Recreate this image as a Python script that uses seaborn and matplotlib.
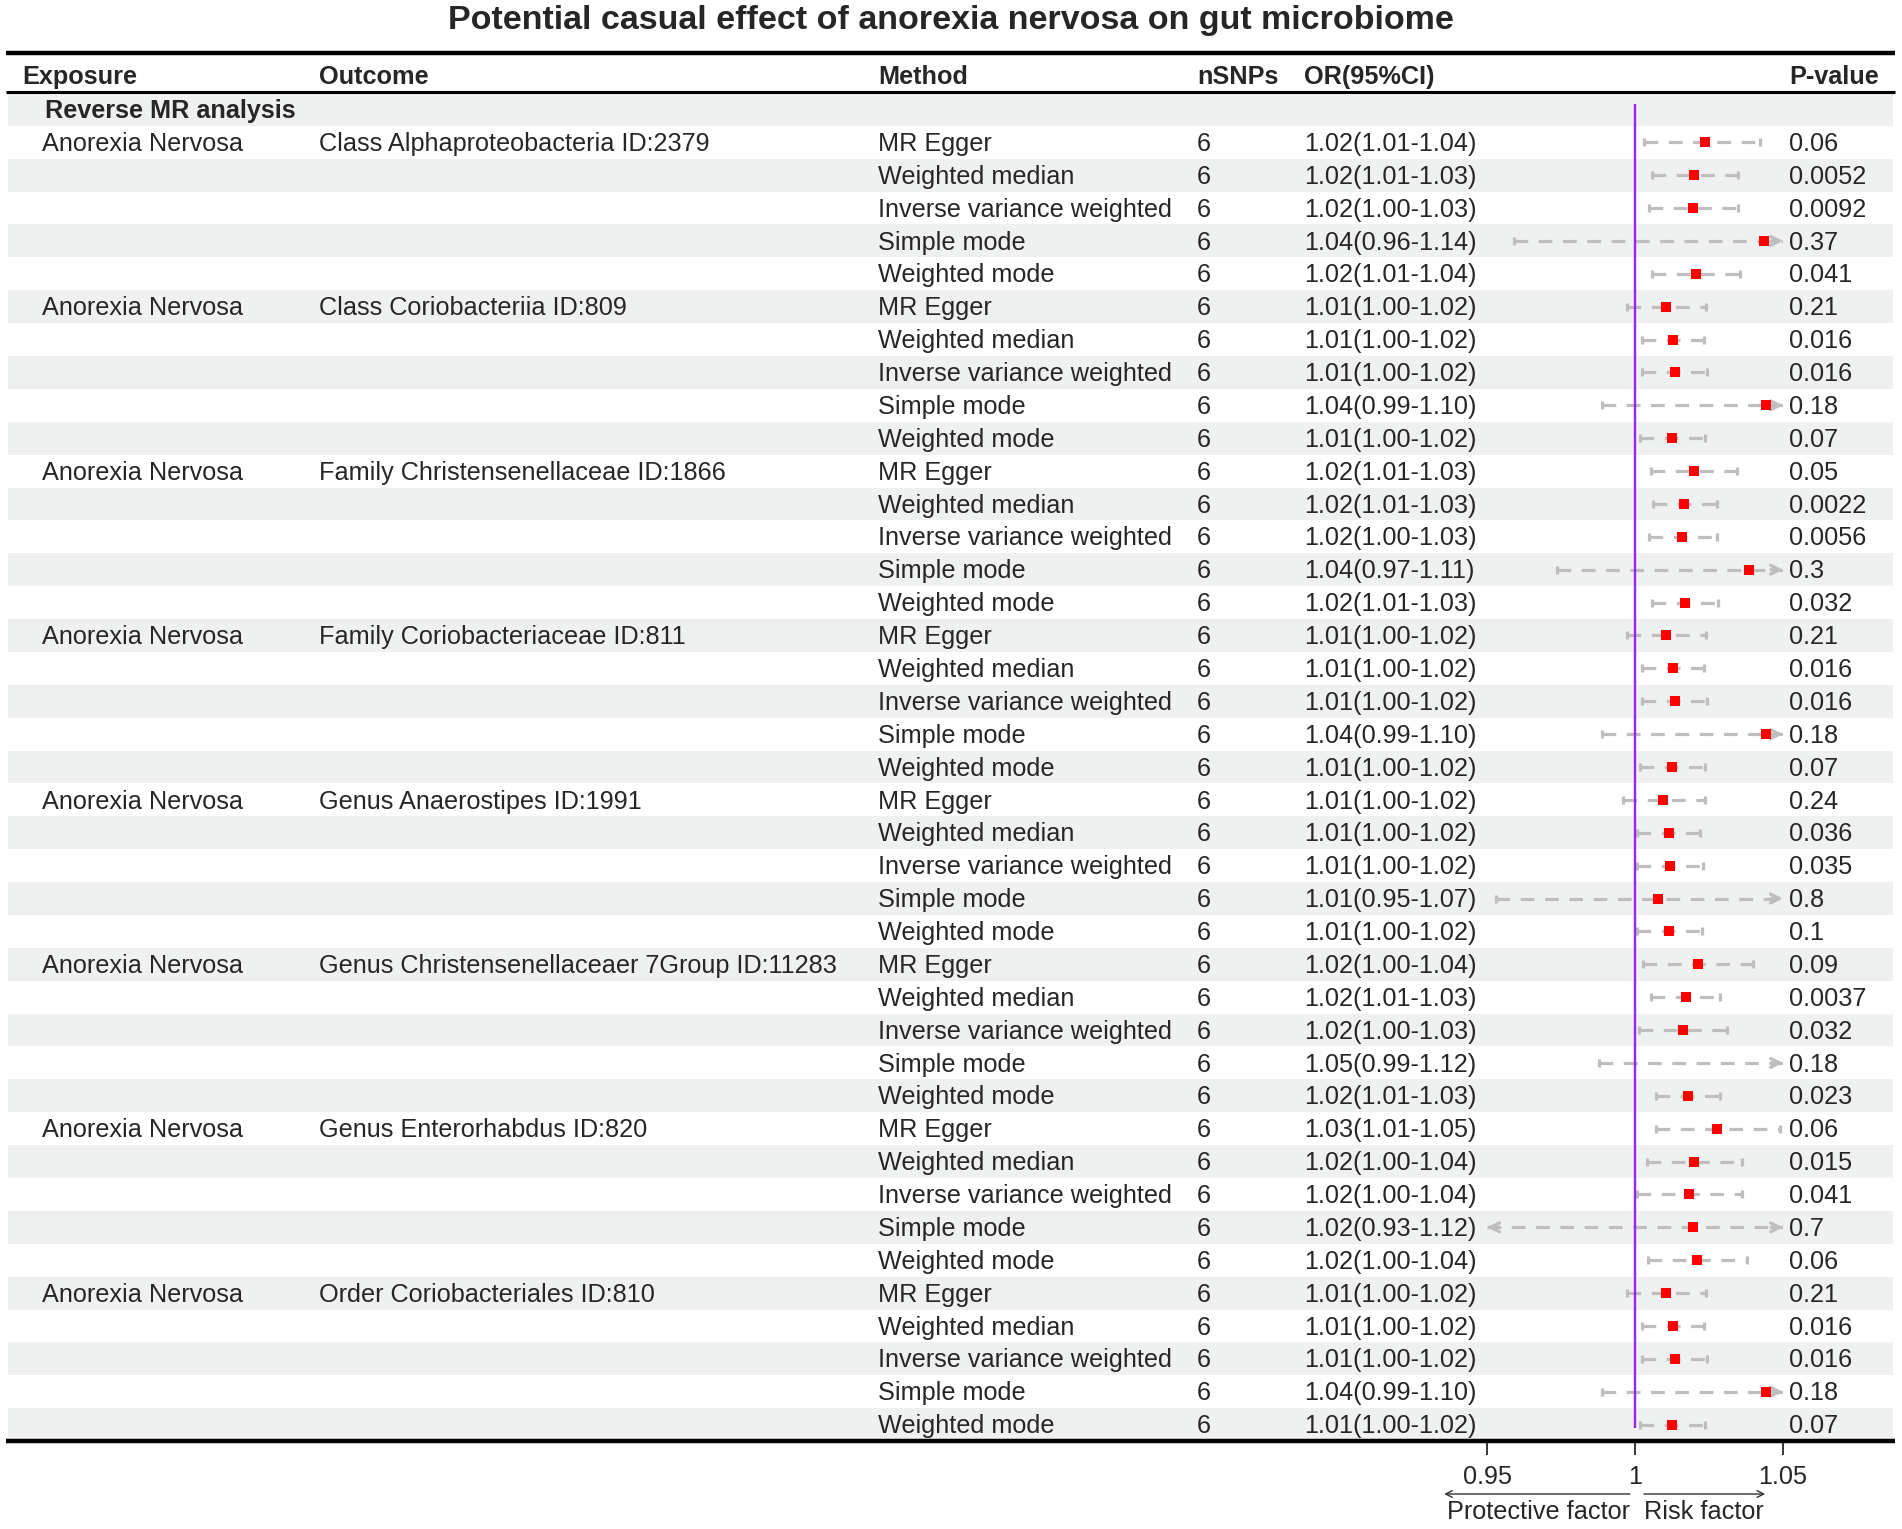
import matplotlib
matplotlib.use("Agg")
import matplotlib.pyplot as plt
import pandas as pd
import seaborn as sns

title = "Potential casual effect of anorexia nervosa on gut microbiome"
headers = ["Exposure", "Outcome", "Method", "nSNPs", "OR(95%CI)", "P-value"]
section = "Reverse MR analysis"
exposure = "Anorexia Nervosa"
outcomes = [
    "Class Alphaproteobacteria ID:2379",
    "Class Coriobacteriia ID:809",
    "Family Christensenellaceae ID:1866",
    "Family Coriobacteriaceae ID:811",
    "Genus Anaerostipes ID:1991",
    "Genus Christensenellaceaer 7Group ID:11283",
    "Genus Enterorhabdus ID:820",
    "Order Coriobacteriales ID:810",
]
methods = ["MR Egger", "Weighted median", "Inverse variance weighted",
           "Simple mode", "Weighted mode"]

nsnp = [6, 6, 6, 6, 6, 6, 6, 6, 6, 6, 6, 6, 6, 6, 6, 6, 6, 6, 6, 6,
        6, 6, 6, 6, 6, 6, 6, 6, 6, 6, 6, 6, 6, 6, 6, 6, 6, 6, 6, 6]

or_text = [
    "1.02(1.01-1.04)", "1.02(1.01-1.03)", "1.02(1.00-1.03)", "1.04(0.96-1.14)", "1.02(1.01-1.04)",
    "1.01(1.00-1.02)", "1.01(1.00-1.02)", "1.01(1.00-1.02)", "1.04(0.99-1.10)", "1.01(1.00-1.02)",
    "1.02(1.01-1.03)", "1.02(1.01-1.03)", "1.02(1.00-1.03)", "1.04(0.97-1.11)", "1.02(1.01-1.03)",
    "1.01(1.00-1.02)", "1.01(1.00-1.02)", "1.01(1.00-1.02)", "1.04(0.99-1.10)", "1.01(1.00-1.02)",
    "1.01(1.00-1.02)", "1.01(1.00-1.02)", "1.01(1.00-1.02)", "1.01(0.95-1.07)", "1.01(1.00-1.02)",
    "1.02(1.00-1.04)", "1.02(1.01-1.03)", "1.02(1.00-1.03)", "1.05(0.99-1.12)", "1.02(1.01-1.03)",
    "1.03(1.01-1.05)", "1.02(1.00-1.04)", "1.02(1.00-1.04)", "1.02(0.93-1.12)", "1.02(1.00-1.04)",
    "1.01(1.00-1.02)", "1.01(1.00-1.02)", "1.01(1.00-1.02)", "1.04(0.99-1.10)", "1.01(1.00-1.02)",
]
p_text = [
    "0.06", "0.0052", "0.0092", "0.37", "0.041",
    "0.21", "0.016", "0.016", "0.18", "0.07",
    "0.05", "0.0022", "0.0056", "0.3", "0.032",
    "0.21", "0.016", "0.016", "0.18", "0.07",
    "0.24", "0.036", "0.035", "0.8", "0.1",
    "0.09", "0.0037", "0.032", "0.18", "0.023",
    "0.06", "0.015", "0.041", "0.7", "0.06",
    "0.21", "0.016", "0.016", "0.18", "0.07",
]

# point estimates and CI ends as drawn in the forest column
est = [1.0236, 1.0201, 1.0196, 1.0437, 1.0205,
       1.0104, 1.0127, 1.0134, 1.0441, 1.0126,
       1.0198, 1.0167, 1.0160, 1.0386, 1.0168,
       1.0104, 1.0127, 1.0134, 1.0441, 1.0126,
       1.0096, 1.0114, 1.0119, 1.0077, 1.0114,
       1.0213, 1.0171, 1.0161, 1.0520, 1.0179,
       1.0278, 1.0200, 1.0184, 1.0197, 1.0209,
       1.0104, 1.0127, 1.0134, 1.0441, 1.0126]
lo = [1.0032, 1.0059, 1.0047, 0.9590, 1.0059,
      0.9972, 1.0025, 1.0025, 0.9889, 1.0018,
      1.0055, 1.0061, 1.0048, 0.9738, 1.0056,
      0.9972, 1.0025, 1.0025, 0.9889, 1.0018,
      0.9961, 1.0008, 1.0008, 0.9530, 1.0006,
      1.0028, 1.0055, 1.0015, 0.9880, 1.0070,
      1.0070, 1.0039, 1.0006, 0.9300, 1.0045,
      0.9972, 1.0025, 1.0025, 0.9889, 1.0018]
hi = [1.0421, 1.0347, 1.0347, 1.1400, 1.0356,
      1.0240, 1.0233, 1.0244, 1.1000, 1.0238,
      1.0343, 1.0276, 1.0276, 1.1100, 1.0282,
      1.0240, 1.0233, 1.0244, 1.1000, 1.0238,
      1.0235, 1.0220, 1.0231, 1.0700, 1.0226,
      1.0400, 1.0287, 1.0310, 1.1200, 1.0287,
      1.0490, 1.0361, 1.0361, 1.1200, 1.0377,
      1.0240, 1.0233, 1.0244, 1.1000, 1.0238]

xticks = [0.95, 1, 1.05]
xtick_labels = ["0.95", "1", "1.05"]

sns.set_theme(style="white")
plt.rcParams["font.family"] = ["Liberation Sans", "DejaVu Sans"]

FS = 18.2
SHADE = "#eef1f0"
GREY = "#bebebe"
DY = 0.05  # small nudge so text sits like the reference

W, H = 1902, 1529
fig = plt.figure(figsize=(W / 100, H / 100), dpi=100)

top_px, bot_px = 40, 1441
row0_px, pitch = 109.4, 32.88


def r(px):
    return (px - row0_px) / pitch


box = [0, 1 - bot_px / H, 1, (bot_px - top_px) / H]
tab = fig.add_axes(box)
tab.set_xlim(0, W)
tab.set_ylim(r(bot_px), r(top_px))
tab.axis("off")

df = pd.DataFrame({"row": range(1, len(est) + 1), "est": est, "lo": lo, "hi": hi,
                   "method": methods * len(outcomes), "nsnp": nsnp,
                   "or": or_text, "p": p_text})

# zebra shading (section row + every other data row)
for i in range(0, len(df) + 1, 2):
    tab.axhspan(i - 0.5, i + 0.5, xmin=8 / W, xmax=1893 / W, color=SHADE, lw=0, zorder=0)

# table rules
tab.hlines(r(53), 6, 1895, color="black", lw=3.2, zorder=5)
tab.hlines(r(92), 6, 1895, color="black", lw=2.2, zorder=5)
tab.hlines(r(bot_px), 6, 1895, color="black", lw=3.2, zorder=5, clip_on=False)

col_x = [22, 319, 878, 1197, 1304, 1789]
for x, h in zip(col_x, headers):
    tab.text(x, r(75) + DY, h, fontsize=FS, fontweight="bold", va="center", ha="left")

tab.text(45, DY, section, fontsize=FS, fontweight="bold", va="center", ha="left")

for k, oc in enumerate(outcomes):
    row = 1 + k * len(methods)
    tab.text(42, row + DY, exposure, fontsize=FS, va="center")
    tab.text(col_x[1], row + DY, oc, fontsize=FS, va="center")

for _, d in df.iterrows():
    y = d["row"] + DY
    tab.text(col_x[2], y, d["method"], fontsize=FS, va="center")
    tab.text(col_x[3], y, str(d["nsnp"]), fontsize=FS, va="center")
    tab.text(col_x[4], y, d["or"], fontsize=FS, va="center")
    tab.text(col_x[5], y, d["p"], fontsize=FS, va="center")

# forest column
xmin, xmax = 0.95, 1.05
fx0, fx1 = 1487, 1783
fax = fig.add_axes([fx0 / W, box[1], (fx1 - fx0) / W, box[3]])
fax.patch.set_alpha(0)
fax.set_xlim(xmin, xmax)
fax.set_ylim(r(bot_px), r(top_px))

for _, d in df.iterrows():
    y = d["row"]
    a = max(d["lo"], xmin)
    b = min(d["hi"], xmax)
    fax.plot([a, b], [y, y], color=GREY, lw=2.3, ls=(0, (4.3, 3.3)),
             solid_capstyle="butt", dash_capstyle="butt", zorder=1)
    if d["lo"] >= xmin:
        fax.plot([d["lo"]], [y], marker="|", ms=6, mew=2.3, color=GREY, zorder=1)
    else:
        fax.annotate("", xy=(xmin, y), xytext=(xmin + 0.004, y),
                     arrowprops=dict(arrowstyle="->", color=GREY, lw=2.3,
                                     shrinkA=0, shrinkB=0, mutation_scale=16), zorder=1)
    if d["hi"] <= xmax:
        fax.plot([d["hi"]], [y], marker="|", ms=6, mew=2.3, color=GREY, zorder=1)
    else:
        fax.annotate("", xy=(xmax, y), xytext=(xmax - 0.004, y),
                     arrowprops=dict(arrowstyle="->", color=GREY, lw=2.3,
                                     shrinkA=0, shrinkB=0, mutation_scale=16), zorder=1)

fax.vlines(1, -0.15, 40.1, color="#a020f0", lw=1.7, zorder=2)

sns.scatterplot(data=df, x="est", y="row", marker="s", color="red", s=50,
                linewidth=0, ax=fax, zorder=3, legend=False)

for s in fax.spines.values():
    s.set_visible(False)
fax.set_xlabel("")
fax.set_ylabel("")
fax.set_yticks([])
fax.set_xticks(xticks)
fax.set_xticklabels(xtick_labels)
fax.tick_params(axis="x", bottom=True, length=10, width=1.1, pad=7,
                labelsize=FS, color="black", direction="out")

# protective / risk arrows
fax.annotate("", xy=(0.9355, H - 1494), xytext=(0.9983, H - 1494),
             xycoords=("data", "figure pixels"), textcoords=("data", "figure pixels"),
             arrowprops=dict(arrowstyle="->", color="#333333", lw=1.0,
                             shrinkA=0, shrinkB=0, mutation_scale=12))
fax.annotate("", xy=(1.0440, H - 1494), xytext=(1.0030, H - 1494),
             xycoords=("data", "figure pixels"), textcoords=("data", "figure pixels"),
             arrowprops=dict(arrowstyle="->", color="#333333", lw=1.0,
                             shrinkA=0, shrinkB=0, mutation_scale=12))
fax.annotate("Protective factor", xy=(0.9983, H - 1512),
             xycoords=("data", "figure pixels"), ha="right", va="center", fontsize=FS)
fax.annotate("Risk factor", xy=(1.0030, H - 1512),
             xycoords=("data", "figure pixels"), ha="left", va="center", fontsize=FS)

fig.text(0.5, 1 - 21 / H, title, ha="center", va="center", fontsize=24.5, fontweight="bold")

fig.savefig("out.png", dpi=100)
